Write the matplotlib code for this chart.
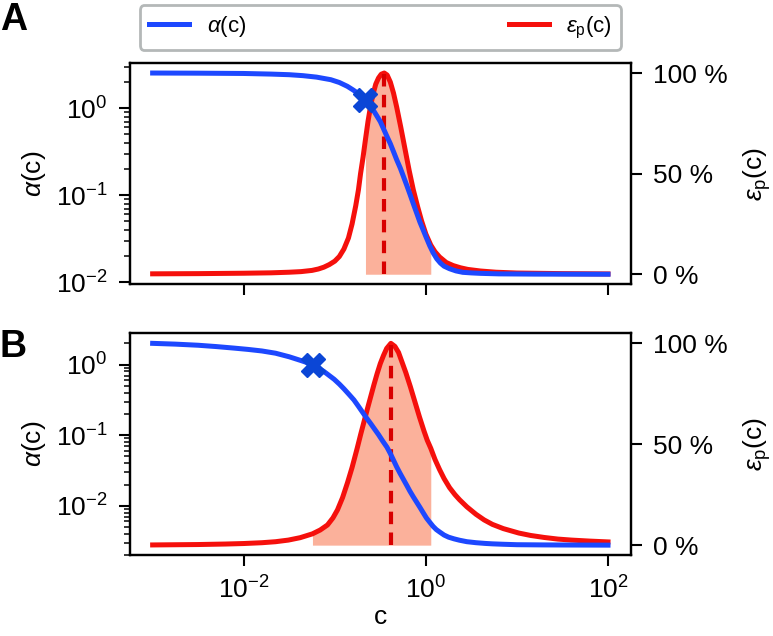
import numpy as np
import matplotlib
matplotlib.use("Agg")
import matplotlib.pyplot as plt
from matplotlib.ticker import FixedLocator, NullLocator, FuncFormatter, LogLocator

# ---- data (log10 of c, alpha, efficiency in %) ----
# panel A
logc_alpha_a = [-3.0, -2.5, -2.0, -1.7, -1.5, -1.35, -1.2, -1.043, -0.95, -0.862,
                -0.8, -0.75, -0.7, -0.663, -0.62, -0.58, -0.54, -0.5, -0.465, -0.43,
                -0.39, -0.355, -0.32, -0.28, -0.245, -0.21, -0.175, -0.14, -0.1, -0.065,
                -0.03, 0.0, 0.043, 0.08, 0.12, 0.16, 0.2, 0.26, 0.33, 0.405,
                0.5, 0.6, 0.8, 1.2, 2.0]
alpha_a = [2.53, 2.52, 2.50, 2.46, 2.42, 2.36, 2.27, 2.12, 1.97, 1.78,
           1.62, 1.49, 1.35, 1.25, 1.11, 0.96, 0.82, 0.70, 0.58, 0.48,
           0.39, 0.316, 0.255, 0.204, 0.163, 0.130, 0.103, 0.081, 0.062, 0.049,
           0.040, 0.0335, 0.0262, 0.0218, 0.0186, 0.0166, 0.0153, 0.0143, 0.0135, 0.0130,
           0.0128, 0.01265, 0.01248, 0.0124, 0.01236]
logc_eps_a = [-3.0, -2.5, -2.0, -1.7, -1.5, -1.37, -1.25, -1.18, -1.12, -1.06,
              -1.0, -0.95, -0.9, -0.85, -0.81, -0.77, -0.74, -0.717, -0.69, -0.663,
              -0.635, -0.609, -0.58, -0.55, -0.52, -0.49, -0.457, -0.425, -0.39, -0.355,
              -0.32, -0.275, -0.228, -0.183, -0.138, -0.09, -0.047, 0.0, 0.054, 0.1,
              0.15, 0.225, 0.3, 0.38, 0.46, 0.6, 0.77, 1.0, 1.5, 2.0]
eps_a = [0.2, 0.3, 0.5, 0.7, 1.0, 1.3, 1.9, 2.6, 3.5, 4.8,
         6.5, 8.8, 12.5, 18, 25, 34, 42, 50, 58, 67,
         76, 83, 89.5, 94.5, 97.5, 99.4, 100, 99, 95.5, 90,
         83, 73, 62, 51.5, 42, 33.5, 26.5, 20, 14.5, 11.2,
         8.6, 5.8, 4.3, 3.2, 2.4, 1.6, 1.0, 0.6, 0.3, 0.15]
mark_a = (0.217, 1.25)      # (c, alpha) of the cross
peak_a = 0.349
fill_a = (0.217, 1.132)

# panel B
logc_alpha_b = [-3.0, -2.75, -2.5, -2.3, -2.1, -1.95, -1.8, -1.65, -1.5, -1.37,
                -1.24, -1.12, -1.007, -0.95, -0.9, -0.845, -0.79, -0.745, -0.7, -0.655,
                -0.609, -0.565, -0.52, -0.475, -0.427, -0.39, -0.355, -0.32, -0.283, -0.245,
                -0.21, -0.175, -0.138, -0.1, -0.065, -0.03, 0.007, 0.045, 0.08, 0.115,
                0.152, 0.2, 0.25, 0.31, 0.37, 0.45, 0.55, 0.65, 0.73, 0.85,
                1.0, 1.3, 1.6, 2.0]
alpha_b = [2.0, 1.95, 1.88, 1.80, 1.71, 1.64, 1.56, 1.45, 1.29, 1.14,
           1.0, 0.80, 0.62, 0.53, 0.455, 0.38, 0.316, 0.262, 0.216, 0.178,
           0.148, 0.123, 0.102, 0.083, 0.0676, 0.055, 0.0442, 0.0355, 0.0288, 0.0235,
           0.0195, 0.0161, 0.0134, 0.0112, 0.0095, 0.0080, 0.0067, 0.0058, 0.0051, 0.0046,
           0.00425, 0.00385, 0.00359, 0.0034, 0.00325, 0.0031, 0.0030, 0.00293, 0.00289, 0.00285,
           0.00281, 0.00279, 0.00278, 0.00277]
logc_eps_b = [-3.0, -2.5, -2.2, -2.0, -1.8, -1.65, -1.51, -1.38, -1.245, -1.16,
              -1.08, -1.02, -0.97, -0.915, -0.86, -0.81, -0.754, -0.715, -0.68, -0.645,
              -0.609, -0.57, -0.535, -0.5, -0.465, -0.43, -0.384, -0.34, -0.3, -0.26,
              -0.22, -0.17, -0.12, -0.07, -0.02, 0.015, 0.054, 0.1, 0.15, 0.2,
              0.26, 0.32, 0.37, 0.45, 0.55, 0.64, 0.73, 0.85, 1.02, 1.15,
              1.3, 1.45, 1.6, 1.8, 2.0]
eps_b = [0.1, 0.3, 0.55, 0.8, 1.2, 1.7, 2.5, 3.7, 5.6, 7.5,
         10, 13.5, 17.5, 23.5, 31, 38.5, 48, 55, 61, 67,
         73, 79.5, 85, 90, 94, 97.5, 100, 98.5, 95.5, 90.5,
         85.5, 78.5, 71, 63.5, 56.5, 52, 48, 42.5, 37.5, 33,
         28.5, 25, 22.5, 19, 15.3, 12.5, 10.3, 8.2, 6.0, 4.8,
         3.8, 3.0, 2.5, 2.0, 1.6]
mark_b = (0.057, 1.0)
peak_b = 0.413
fill_b = (0.057, 1.132)

blue = "#1d48ff"
red = "#f5100c"
dark_red = "#d80000"
fill_col = "#fbb19b"
mark_col = "#0b46d6"

plt.rcParams.update({
    "font.family": ["Liberation Sans", "DejaVu Sans"],
    "font.size": 19,
    "mathtext.fontset": "custom",
    "mathtext.rm": "Liberation Sans",
    "mathtext.it": "Liberation Sans:italic",
    "mathtext.bf": "Liberation Sans:bold",
    "axes.linewidth": 1.6,
    "xtick.major.size": 8, "ytick.major.size": 8,
    "xtick.major.width": 1.5, "ytick.major.width": 1.5,
    "xtick.minor.size": 4.5, "ytick.minor.size": 4.5,
    "xtick.minor.width": 1.1, "ytick.minor.width": 1.1,
    "xtick.major.pad": 7, "ytick.major.pad": 8,
})


def panel(ax, lca, al, lce, ep, mark, peak, fill):
    c_al = 10 ** np.array(lca)
    lce = np.array(lce)
    c_ep = 10 ** lce
    ep = np.array(ep)

    ax2 = ax.twinx()
    lo, hi = np.log10(fill)
    sel = (lce >= lo - 0.005) & (lce <= hi + 0.005)
    ax2.fill_between(c_ep[sel], 0, ep[sel], color=fill_col, lw=0)
    l2, = ax2.plot(c_ep, ep, color=red, lw=3.6, label=r"$\varepsilon_\mathrm{p}$(c)")
    ax2.plot([peak, peak], [0, 100], color=dark_red, lw=3, ls=(0, (3, 2)))
    ax2.set_yticks([0, 50, 100])
    ax2.yaxis.set_major_formatter(FuncFormatter(lambda v, p: "%d %%" % v))
    ax2.set_ylabel(r"$\varepsilon_\mathrm{p}$(c)", labelpad=10)

    l1, = ax.plot(c_al, al, color=blue, lw=3.6, label=r"$\alpha$(c)")
    ax.plot([mark[0]], [mark[1]], marker="X", ms=17, color=mark_col, mec=mark_col)
    ax.set_yscale("log")
    ax.set_xscale("log")
    ax.yaxis.set_minor_locator(LogLocator(base=10, subs=np.arange(2, 10)))
    ax.set_ylabel(r"$\alpha$(c)", labelpad=6)
    ax.set_zorder(ax2.get_zorder() + 1)
    ax.patch.set_visible(False)
    return l1, l2


fig = plt.figure(figsize=(7.73, 6.36), dpi=100)
ax_a = fig.add_axes([0.168, 0.553, 0.648, 0.348])
ax_b = fig.add_axes([0.168, 0.127, 0.648, 0.349], sharex=ax_a)

h1, h2 = panel(ax_a, logc_alpha_a, alpha_a, logc_eps_a, eps_a, mark_a, peak_a, fill_a)
panel(ax_b, logc_alpha_b, alpha_b, logc_eps_b, eps_b, mark_b, peak_b, fill_b)

for ax in (ax_a, ax_b):
    ax.xaxis.set_major_locator(FixedLocator([1e-2, 1e0, 1e2]))
    ax.xaxis.set_minor_locator(NullLocator())
ax_a.tick_params(axis="x", labelbottom=False)
ax_b.set_xlabel("c", labelpad=1)

leg = ax_a.legend([h1, h2], [h1.get_label(), h2.get_label()], loc="lower left",
                  bbox_to_anchor=(0.02, 1.06, 0.96, 0.2), mode="expand", ncol=2,
                  borderaxespad=0, fontsize=16, handlelength=1.8, fancybox=True,
                  edgecolor="#b4b8b8", framealpha=1)
leg.get_frame().set_linewidth(2)

fig.text(0.0, 0.997, "A", fontsize=27, fontweight="bold", va="top", ha="left")
fig.text(0.0, 0.482, "B", fontsize=27, fontweight="bold", va="top", ha="left")

fig.savefig("out.png", dpi=100)
